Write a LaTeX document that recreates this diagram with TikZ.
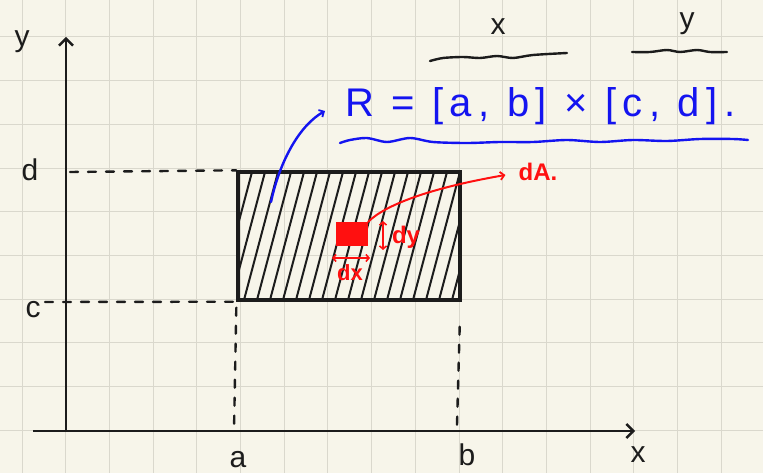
\documentclass[tikz,border=0pt]{standalone}
\usepackage{fontspec}
\setmainfont{Liberation Sans}
\newfontfamily\rfont[LetterSpace=16]{Liberation Sans}
\usetikzlibrary{arrows.meta}
\definecolor{bgc}{HTML}{F7F5EA}
\definecolor{gridc}{HTML}{DAD8CD}
\definecolor{ink}{HTML}{1C1C1C}
\definecolor{bluec}{HTML}{1414F0}
\definecolor{redc}{HTML}{FF1010}
\tikzset{
  axis/.style={ink, line width=2.6pt, -{Straight Barb[length=7pt,width=14pt,line width=2.4pt]}},
  lab/.style={ink, font=\fontsize{30}{32}\selectfont, inner sep=0pt},
  redlab/.style={redc, font=\bfseries\fontsize{22}{24}\selectfont, inner sep=0pt},
  guide/.style={ink, line width=2.4pt, dash pattern=on 8pt off 10pt, line cap=round},
  hatch/.style={ink, line width=2pt, line cap=round},
  wave/.style={line width=2.4pt, line cap=round},
  redarrow/.style={redc, line width=2pt, line cap=round},
  barb/.style={-{Straight Barb[length=4pt,width=8pt,line width=1.8pt]}},
  dbarb/.style={{Straight Barb[length=3pt,width=7pt,line width=1.6pt]}-{Straight Barb[length=3pt,width=7pt,line width=1.6pt]}}
}
\begin{document}
\begin{tikzpicture}[x=1pt,y=-1pt]
\fill[bgc] (0,0) rectangle (763,473);
\useasboundingbox (0,0) rectangle (763,473);
% grid
\foreach \i in {0,...,17} \draw[gridc, line width=1pt] ({22+43.7*\i},0) -- ++(0,473);
\foreach \j in {0,...,10} \draw[gridc, line width=1pt] (0,{37+43.7*\j}) -- ++(763,0);
% axes
\coordinate (o) at (66,431);
\coordinate (ytop) at (66,37);
\coordinate (xleft) at (33,431);
\coordinate (xright) at (635,431);
\draw[axis] (o) -- (ytop);
\draw[axis] (xleft) -- (xright);
% axis labels
\node[lab] (ylab) at (22,42) {y};
\node[lab] (dlab) at (30,170) {d};
\node[lab] (clab) at (33,310) {c};
\node[lab] (alab) at (238,460) {a};
\node[lab] (blab) at (467,455) {b};
\node[lab] (xlab) at (638,455) {x};
% hatching
\begin{scope}
\clip (238,172) rectangle (460,300);
\foreach \s in {205,218,...,470} \draw[hatch] (\s,300) -- ({\s+34},172);
\end{scope}
% rectangle
\node[draw=ink, line width=3.4pt, minimum width=222pt, minimum height=128pt, inner sep=0pt] (rect) at (349,236) {};
% guides
\coordinate (dax) at (70,172);
\coordinate (cax) at (45,302);
\coordinate (aax) at (234,430);
\coordinate (bax) at (457,425);
\draw[guide] (dax) -- (rect.north west);
\draw[guide] (cax) -- (rect.south west);
\draw[guide] ([yshift=-6pt]rect.south west) -- (aax);
\draw[guide] ([xshift=-2pt,yshift=-25pt]rect.south east) -- (bax);
% top labels x and y
\node[lab] (topx) at (498,27) {x};
\node[lab] (topy) at (687,24) {y};
\draw[ink, wave] plot[smooth] coordinates {(430,61) (443,58) (463,57) (480,58) (497,56) (513,58) (533,55) (567,53)};
\draw[ink, wave] plot[smooth] coordinates {(632,52) (650,52) (667,50) (680,52) (697,50) (710,52) (727,52)};
% blue definition
\node[bluec, font=\rfont\fontsize{40}{44}\selectfont, inner sep=0pt, anchor=west] (Rdef) at (345,106) {R = [a, b] × [c, d].};
\draw[bluec, wave] plot[smooth] coordinates {(340,143) (350,140) (367,138) (387,142) (410,138) (433,142) (467,143) (500,142) (533,142) (567,140) (600,142) (633,140) (667,141) (700,139) (733,139) (748,140)};
\coordinate (bstart) at (271,202);
\draw[bluec, wave, barb] (bstart) .. controls (280,160) and (300,125) .. ([xshift=-20pt,yshift=-5pt]Rdef.west);
% red element
\node[fill=redc, minimum width=32pt, minimum height=24pt, inner sep=0pt] (sq) at (352,234) {};
\node[redlab, font=\bfseries\fontsize{24}{26}\selectfont] (dA) at (538,172) {dA.};
\draw[redarrow, barb] (sq.north east) .. controls (385,205) and (430,188) .. ([xshift=-13pt,yshift=-3pt]dA.west);
\coordinate (vy1) at (383,221);
\coordinate (vy2) at (383,250);
\draw[redarrow, dbarb] (vy1) -- (vy2);
\coordinate (hx1) at (332,258);
\coordinate (hx2) at (370,258);
\draw[redarrow, dbarb] (hx1) -- (hx2);
\node[redlab, font=\bfseries\fontsize{24}{26}\selectfont] (dylab) at (406,237) {dy};
\node[redlab] (dxlab) at (350,273) {dx};
\end{tikzpicture}
\end{document}
